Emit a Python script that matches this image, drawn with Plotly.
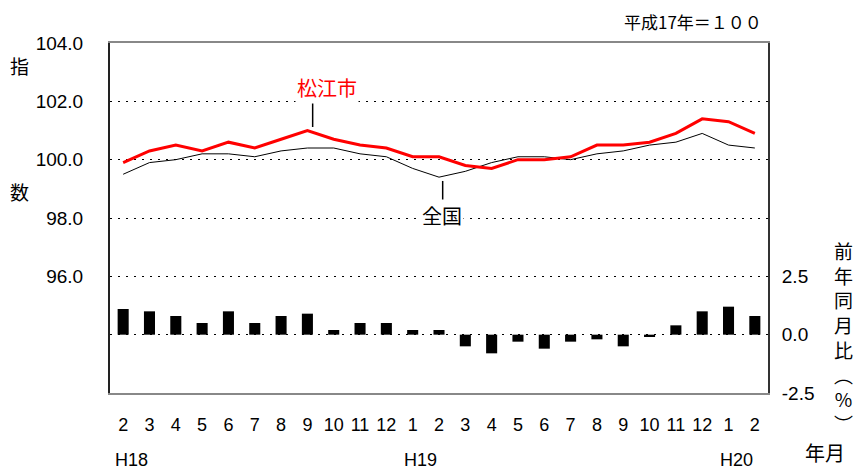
import plotly.graph_objects as go

months = ["2", "3", "4", "5", "6", "7", "8", "9", "10", "11", "12", "1",
          "2", "3", "4", "5", "6", "7", "8", "9", "10", "11", "12", "1", "2"]
matsue = [99.9, 100.3, 100.5, 100.3, 100.6, 100.4, 100.7, 101.0, 100.7, 100.5, 100.4, 100.1,
          100.1, 99.8, 99.7, 100.0, 100.0, 100.1, 100.5, 100.5, 100.6, 100.9, 101.4, 101.3, 100.9]
zenkoku = [99.5, 99.9, 100.0, 100.2, 100.2, 100.1, 100.3, 100.4, 100.4, 100.2, 100.1, 99.7,
           99.4, 99.6, 99.9, 100.1, 100.1, 100.0, 100.2, 100.3, 100.5, 100.6, 100.9, 100.5, 100.4]
yoy = [1.1, 1.0, 0.8, 0.5, 1.0, 0.5, 0.8, 0.9, 0.2, 0.5, 0.5, 0.2,
       0.2, -0.5, -0.8, -0.3, -0.6, -0.3, -0.2, -0.5, -0.1, 0.4, 1.0, 1.2, 0.8]
year_labels = ["H18", "H19", "H20"]
year_index = [0, 11, 23]
left_ticks = [94, 96, 98, 100, 102, 104]
left_text = ["", "96.0", "98.0", "100.0", "102.0", "104.0"]
right_ticks = [-2.5, 0, 2.5]
right_text = ["-2.5", "0.0", "2.5"]

x = list(range(len(months)))
LAT = "Liberation Sans, Arial, sans-serif"
JP = "Noto Sans CJK JP, sans-serif"

fig = go.Figure()
fig.add_trace(go.Bar(x=x, y=yoy, yaxis="y2", marker=dict(color="black", line=dict(width=0)),
                     width=0.42, showlegend=False))
fig.add_trace(go.Scatter(x=x, y=zenkoku, mode="lines", line=dict(color="black", width=1),
                         showlegend=False))
fig.add_trace(go.Scatter(x=x, y=matsue, mode="lines", line=dict(color="#ff0000", width=3),
                         showlegend=False))


def ann(text, x, y, xref="paper", yref="paper", size=19, color="black", family=JP, **kw):
    return dict(text=text, x=x, y=y, xref=xref, yref=yref, showarrow=False,
                xanchor=kw.pop("xanchor", "center"), yanchor="middle",
                font=dict(family=family, size=size, color=color), **kw)


annotations = [
    ann("松江市", 7.74, 102.49, "x", "y", size=20, color="#ff0000", bgcolor="white"),
    ann("全国", 12.11, 98.07, "x", "y", size=20, bgcolor="white"),
    ann("平成17年＝１００", 0.994, 1.06, size=17, xanchor="right"),
    ann("指", -0.137, 0.935),
    ann("数", -0.137, 0.576),
    ann("前<br>年<br>同<br>月<br>比<br>︵<br>%<br>︶", 1.115, 0.161, align="center"),
    ann("年月", 1.087, -0.171, size=20),
]
for lab, idx in zip(year_labels, year_index):
    annotations.append(ann(lab, idx + 0.3, -0.191, "x", "paper", size=18, family=LAT,
                           borderpad=0))

shapes = [
    dict(type="line", xref="x", yref="y", x0=7.2, x1=7.2, y0=101.12, y1=102.11,
         line=dict(color="black", width=1.5)),
    dict(type="line", xref="x", yref="y", x0=12.14, x1=12.14, y0=98.45, y1=99.27,
         line=dict(color="black", width=1.5)),
]

fig.update_layout(
    width=855, height=469,
    margin=dict(l=110, r=87, t=43, b=76, autoexpand=False),
    paper_bgcolor="white", plot_bgcolor="white",
    showlegend=False,
    annotations=annotations,
    shapes=shapes,
    xaxis=dict(range=[-0.5, 24.5], tickmode="array", tickvals=x, ticktext=months,
               showgrid=False, zeroline=False, ticks="", ticklabelstandoff=14, automargin=False,
               tickfont=dict(family=LAT, size=18, color="black"),
               showline=True, linecolor="#888888", linewidth=2, mirror=True),
    yaxis=dict(range=[92, 104], tickmode="array", tickvals=left_ticks, ticktext=left_text,
               showgrid=True, gridcolor="black", gridwidth=1, griddash="2px,6px",
               zeroline=False, ticks="", ticklabelstandoff=21, automargin=False,
               tickfont=dict(family=LAT, size=19, color="black"),
               showline=True, linecolor="#222222", linewidth=2, mirror=False),
    yaxis2=dict(range=[-2.5, 12.5], overlaying="y", side="right", tickmode="array",
                tickvals=right_ticks, ticktext=right_text, showgrid=False, zeroline=False,
                ticks="", ticklabelstandoff=8, automargin=False,
                tickfont=dict(family=LAT, size=19, color="black"),
                showline=True, linecolor="#333333", linewidth=2),
)

fig.write_html("out.html", config={"displayModeBar": False},
               post_script="document.body.style.margin='0';document.body.style.overflow='hidden';")
